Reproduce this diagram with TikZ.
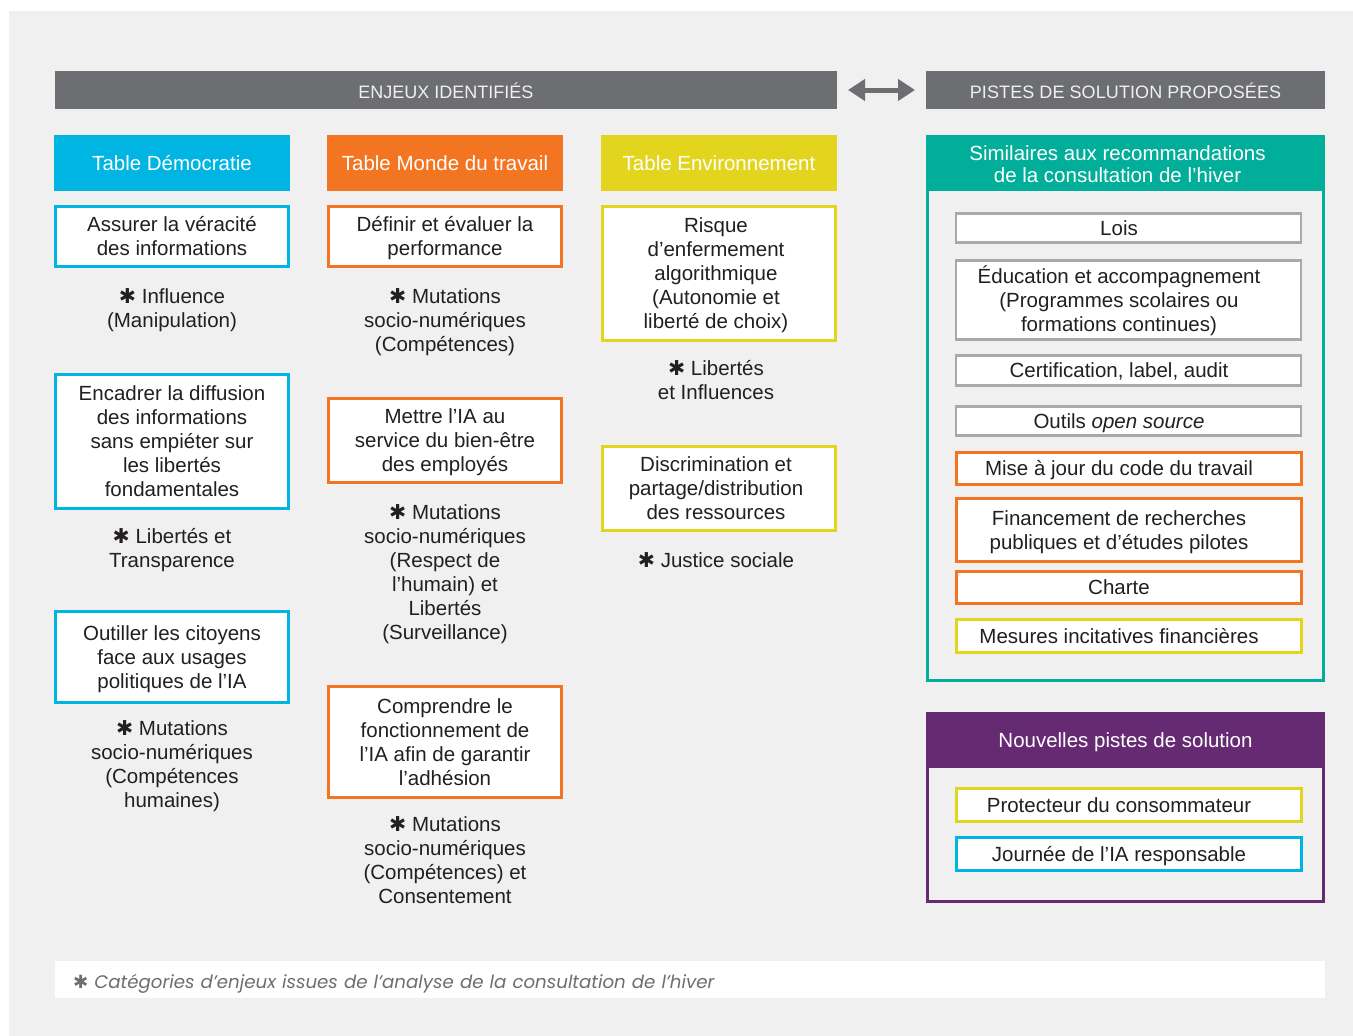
\documentclass[tikz,border=0pt]{standalone}
\usepackage{fontspec}
\setmainfont{Liberation Sans}
\newfontfamily\symfont{DejaVu Sans}
\newfontfamily\footfont{Poppins}
\usetikzlibrary{arrows.meta}
\definecolor{bgc}{HTML}{F0F0F0}
\definecolor{hdr}{HTML}{6D6E71}
\definecolor{cblue}{HTML}{00B5E2}
\definecolor{corange}{HTML}{F47521}
\definecolor{cyellow}{HTML}{E3D51E}
\definecolor{cteal}{HTML}{00AE9A}
\definecolor{cpurple}{HTML}{662A73}
\definecolor{cgray}{HTML}{A7A9AC}
\definecolor{txt}{HTML}{231F20}
\newcommand\tb[1]{\begin{tabular}{@{}c@{}}\rule{0pt}{22pt}#1\end{tabular}}
\newcommand\rtx[1]{\tb{#1}\kern19pt}
\newcommand\stargl{{\symfont\upshape ✱}}
\tikzset{
  base/.style={inner sep=0pt, outer sep=0pt, text=txt, font=\fontsize{20.5}{24}\selectfont},
  ebox/.style={base, draw, fill=white, line width=3pt, minimum width=233pt},
  rbox/.style={base, draw, fill=white, line width=3pt, minimum width=345pt},
  gbox/.style={rbox, draw=cgray, line width=2.5pt},
  lbl/.style={base},
  colhead/.style={base, text=white, minimum width=236pt, minimum height=56pt},
  sidehead/.style={base, text=white, minimum width=399pt, minimum height=56pt},
  bar/.style={base, fill=hdr, text=bgc, font=\fontsize{18}{22}\selectfont, minimum height=38pt, text height=17pt, text depth=0pt},
  framebox/.style={draw, line width=3pt, minimum width=396pt, inner sep=0pt, outer sep=0pt},
  dbl/.style={draw=hdr, line width=5pt, {Triangle[length=17pt,width=21pt]}-{Triangle[length=17pt,width=21pt]}},
  foot/.style={fill=white, minimum width=1270pt, minimum height=37pt, text width=1234pt, inner xsep=18pt, inner ysep=0pt, align=left, text=hdr, text height=21pt, text depth=4pt, font=\footfont\itshape\fontsize{18.2}{22}\selectfont}
}
\begin{document}
\begin{tikzpicture}[x=1pt,y=-1pt]
\useasboundingbox (0,0) rectangle (1353,1036);
\fill[white] (0,0) rectangle (1353,1036);
\fill[bgc] (9,11) rectangle (1353,1036);

% header bars
\node[bar, minimum width=782pt] (barL) at (446,90) {ENJEUX IDENTIFIÉS};
\node[bar, minimum width=399pt] (barR) at (1125.5,90) {\addfontfeature{LetterSpace=0.5}PISTES DE SOLUTION PROPOSÉES};
\draw[dbl] ([xshift=11pt]barL.east) -- ([xshift=-11pt]barR.west);

% column 1
\node[colhead, fill=cblue] (h1) at (172,163) {\tb{Table Démocratie}};
\node[ebox, draw=cblue, minimum height=60pt] (a1) at (172,236.5) {\tb{Assurer la véracité\\des informations}};
\node[lbl] (la1) at (172,308) {\tb{\stargl{} Influence\\(Manipulation)}};
\node[ebox, draw=cblue, minimum height=134pt] (a2) at (172,441.5) {\tb{Encadrer la diffusion\\des informations\\sans empiéter sur\\les libertés\\fondamentales}};
\node[lbl] (la2) at (172,548) {\tb{\stargl{} Libertés et\\Transparence}};
\node[ebox, draw=cblue, minimum height=91pt] (a3) at (172,657) {\tb{Outiller les citoyens\\face aux usages\\politiques de l’IA}};
\node[lbl] (la3) at (172,764) {\tb{\stargl{} Mutations\\socio-numériques\\(Compétences\\humaines)}};

% column 2
\node[colhead, fill=corange] (h2) at (445,163) {\tb{Table Monde du travail}};
\node[ebox, draw=corange, minimum height=60pt] (b1) at (445,236.5) {\tb{Définir et évaluer la\\performance}};
\node[lbl] (lb1) at (445,320) {\tb{\stargl{} Mutations\\socio-numériques\\(Compétences)}};
\node[ebox, draw=corange, minimum height=84pt] (b2) at (445,440.5) {\tb{Mettre l’IA au\\service du bien-être\\des employés}};
\node[lbl] (lb2) at (445,572) {\tb{\stargl{} Mutations\\socio-numériques\\(Respect de\\l’humain) et\\Libertés\\(Surveillance)}};
\node[ebox, draw=corange, minimum height=111pt] (b3) at (445,742) {\tb{Comprendre le\\fonctionnement de\\l’IA afin de garantir\\l’adhésion}};
\node[lbl] (lb3) at (445,860) {\tb{\stargl{} Mutations\\socio-numériques\\(Compétences) et\\Consentement}};

% column 3
\node[colhead, fill=cyellow] (h3) at (719,163) {\tb{Table Environnement}};
\node[ebox, draw=cyellow, minimum height=134pt] (c1) at (719,273.5) {\tb{Risque\\d’enfermement\\algorithmique\\(Autonomie et\\liberté de choix)}\kern6pt};
\node[lbl] (lc1) at (716,380) {\tb{\stargl{} Libertés\\et Influences}};
\node[ebox, draw=cyellow, minimum height=84pt] (c2) at (719,488.5) {\tb{Discrimination et\\partage/distribution\\des ressources}\kern6pt};
\node[lbl] (lc2) at (716,560) {\tb{\stargl{} Justice sociale}};

% right: similar recommendations
\node[framebox, draw=cteal, minimum height=544pt] (simframe) at (1125.5,408.5) {};
\node[sidehead, fill=cteal, font=\fontsize{20.5}{22}\selectfont] (simhead) at (1125.5,163) {\begin{tabular}{@{}c@{}}\rule{0pt}{23pt}Similaires aux recommandations\\de la consultation de l’hiver\end{tabular}\kern16pt};
\node[gbox, minimum height=29pt] (r1) at (1128.5,228) {\rtx{Lois}};
\node[gbox, minimum height=79pt] (r2) at (1128.5,300) {\rtx{Éducation et accompagnement\\(Programmes scolaires ou\\formations continues)}};
\node[gbox, minimum height=30pt] (r3) at (1128.5,370.5) {\rtx{Certification, label, audit}};
\node[gbox, minimum height=29pt] (r4) at (1128.5,421) {\rtx{Outils \emph{open source}}};
\node[rbox, draw=corange, minimum height=32pt] (r5) at (1128.5,468.5) {\rtx{Mise à jour du code du travail}};
\node[rbox, draw=corange, minimum height=63pt] (r6) at (1128.5,530) {\rtx{Financement de recherches\\publiques et d’études pilotes}};
\node[rbox, draw=corange, minimum height=32pt] (r7) at (1128.5,587.5) {\rtx{Charte}};
\node[rbox, draw=cyellow, minimum height=33pt] (r8) at (1128.5,636) {\rtx{Mesures incitatives financières}};

% right: new solutions
\node[framebox, draw=cpurple, minimum height=188pt] (newframe) at (1125.5,807.5) {};
\node[sidehead, fill=cpurple] (newhead) at (1125.5,740) {\tb{Nouvelles pistes de solution}};
\node[rbox, draw=cyellow, minimum height=33pt] (p1) at (1128.5,805) {\rtx{Protecteur du consommateur}};
\node[rbox, draw=cblue, minimum height=33pt] (p2) at (1128.5,854) {\rtx{Journée de l’IA responsable}};

% footnote
\node[foot] (fn) at (690,979.5) {\stargl{} Catégories d’enjeux issues de l’analyse de la consultation de l’hiver};
\end{tikzpicture}
\end{document}
